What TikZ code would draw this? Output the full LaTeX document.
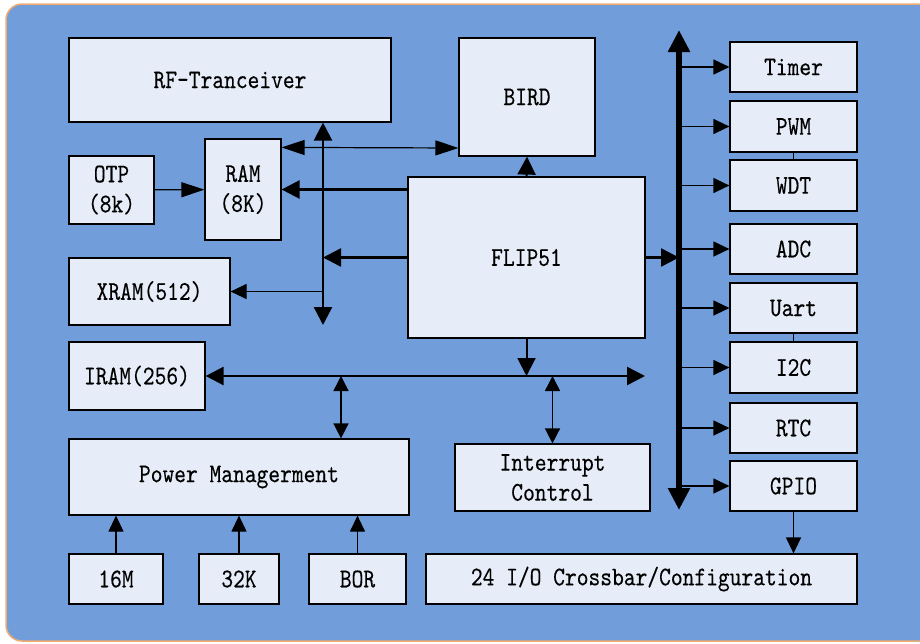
\documentclass[tikz,border=0pt]{standalone}
\usepackage{fontspec}
\newfontfamily\labelfont{lmmono10-regular.otf}[FakeStretch=0.83,FakeBold=0.25]
\usetikzlibrary{arrows.meta}

\definecolor{panel}{RGB}{113,158,218}
\definecolor{blockfill}{RGB}{231,237,248}
\definecolor{rim}{RGB}{240,172,112}

\begin{document}
\begin{tikzpicture}[x=1pt, y=-1pt,
  every node/.style={font=\labelfont\fontsize{27}{30}\selectfont},
  block/.style={draw, line width=1.2pt, fill=blockfill, inner sep=0pt, align=center},
  arr/.style={line width=1.2pt, -{Triangle[length=16pt,width=15pt]}},
  longarr/.style={line width=1.2pt, -{Triangle[length=23pt,width=15pt]}},
  thickarr/.style={line width=2.5pt, -{Triangle[length=18pt,width=18pt]}},
  dbl/.style={line width=1.5pt, {Triangle[length=15pt,width=15pt]}-{Triangle[length=15pt,width=15pt]}},
  mainbus/.style={line width=5.5pt, {Triangle[length=22pt,width=21pt]}-{Triangle[length=22pt,width=21pt]}}]
  \useasboundingbox (0,0) rectangle (920,643);
  \clip (0,0) rectangle (920,643);
  \draw[rim, line width=1.5pt, fill=panel, rounded corners=16pt] (6,4) rectangle (950,641);

  % memories and core
  \node[block, minimum width=322pt, minimum height=84pt] (rf) at (230,80) {RF-Tranceiver};
  \node[block, minimum width=136pt, minimum height=118pt] (bird) at (527,97) {BIRD};
  \node[block, minimum width=85pt, minimum height=68pt] (otp) at (111.5,190) {OTP\\(8k)};
  \node[block, minimum width=76pt, minimum height=101pt] (ram) at (243,189.5) {RAM\\(8K)};
  \node[block, minimum width=161pt, minimum height=67pt] (xram) at (149.5,291.5) {XRAM(512)};
  \node[block, minimum width=237pt, minimum height=161pt] (flip) at (526.5,257.5) {FLIP51};
  \node[block, minimum width=136pt, minimum height=68pt] (iram) at (137,376) {IRAM(256)};
  \node[block, minimum width=340pt, minimum height=76pt] (power) at (239,477) {Power Managerment};
  \node[block, minimum width=195pt, minimum height=67pt] (intr) at (552.5,477.5) {Interrupt\\Control};

  % clock sources
  \node[block, minimum width=94pt, minimum height=50pt] (m16) at (116,579) {16M};
  \node[block, minimum width=80pt, minimum height=50pt] (k32) at (239,579) {32K};
  \node[block, minimum width=97pt, minimum height=50pt] (bor) at (357.5,579) {BOR};
  \node[block, minimum width=431pt, minimum height=50pt] (xbar) at (641.5,579) {24 I/O Crossbar/Configuration};

  % peripherals
  \node[block, minimum width=127pt, minimum height=50pt] (timer) at (793.5,67) {Timer};
  \node[block, minimum width=127pt, minimum height=51pt] (pwm) at (793.5,126.5) {PWM};
  \node[block, minimum width=127pt, minimum height=51pt] (wdt) at (793.5,185.5) {WDT};
  \node[block, minimum width=127pt, minimum height=50pt] (adc) at (793.5,249) {ADC};
  \node[block, minimum width=127pt, minimum height=50pt] (uart) at (793.5,308) {Uart};
  \node[block, minimum width=127pt, minimum height=51pt] (i2c) at (793.5,367.5) {I2C};
  \node[block, minimum width=127pt, minimum height=50pt] (rtc) at (793.5,428) {RTC};
  \node[block, minimum width=127pt, minimum height=50pt] (gpio) at (793.5,486) {GPIO};

  \coordinate (lbus) at (323,325);
  \coordinate (rtop) at (679,30);
  \coordinate (rbot) at (679,510);
  \coordinate (hend) at (645,376);
  \coordinate (ptap) at (341,376);

  \draw[longarr] (otp) -- (ram);
  \draw[line width=1.2pt, {Triangle[length=23pt,width=15pt]}-{Triangle[length=23pt,width=15pt]}] ([yshift=-9pt]ram.north east) -- (bird.west |- 0,148);
  \draw[line width=2.5pt, {Triangle[length=18pt,width=18pt]}-{Triangle[length=18pt,width=18pt]}] (lbus |- rf.south) -- (lbus);
  \draw[thickarr] (flip.west |- ram.east) -- (ram.east);
  \draw[thickarr] (flip.west) -- (lbus |- flip.west);
  \draw[arr] (lbus |- xram.east) -- (xram.east);
  \draw[thickarr, line width=2pt] (flip.north) -- (bird.south);

  \draw[mainbus] (rtop) -- (rbot);
  \draw[thickarr] (flip.east) -- (rtop |- flip.east);
  \foreach \p in {timer,pwm,wdt,adc,uart,i2c,rtc,gpio}
    \draw[arr] (rtop |- \p.west) -- (\p.west);
  \draw[line width=1.2pt] (pwm.south) -- (wdt.north);
  \draw[line width=1.2pt] (uart.south) -- (i2c.north);
  \draw[arr] (gpio.south) -- (gpio.south |- xbar.north);

  \draw[line width=2.5pt, {Triangle[length=18pt,width=18pt]}-{Triangle[length=18pt,width=18pt]}] (iram.east) -- (hend);
  \draw[thickarr, line width=2pt] (flip.south) -- (flip.south |- hend);
  \draw[dbl] (ptap) -- (ptap |- power.north);
  \draw[dbl] (intr.north |- hend) -- (intr.north);

  \draw[arr] (m16.north) -- (m16.north |- power.south);
  \draw[arr] (k32.north) -- (k32.north |- power.south);
  \draw[arr] (bor.north) -- (bor.north |- power.south);
\end{tikzpicture}
\end{document}
